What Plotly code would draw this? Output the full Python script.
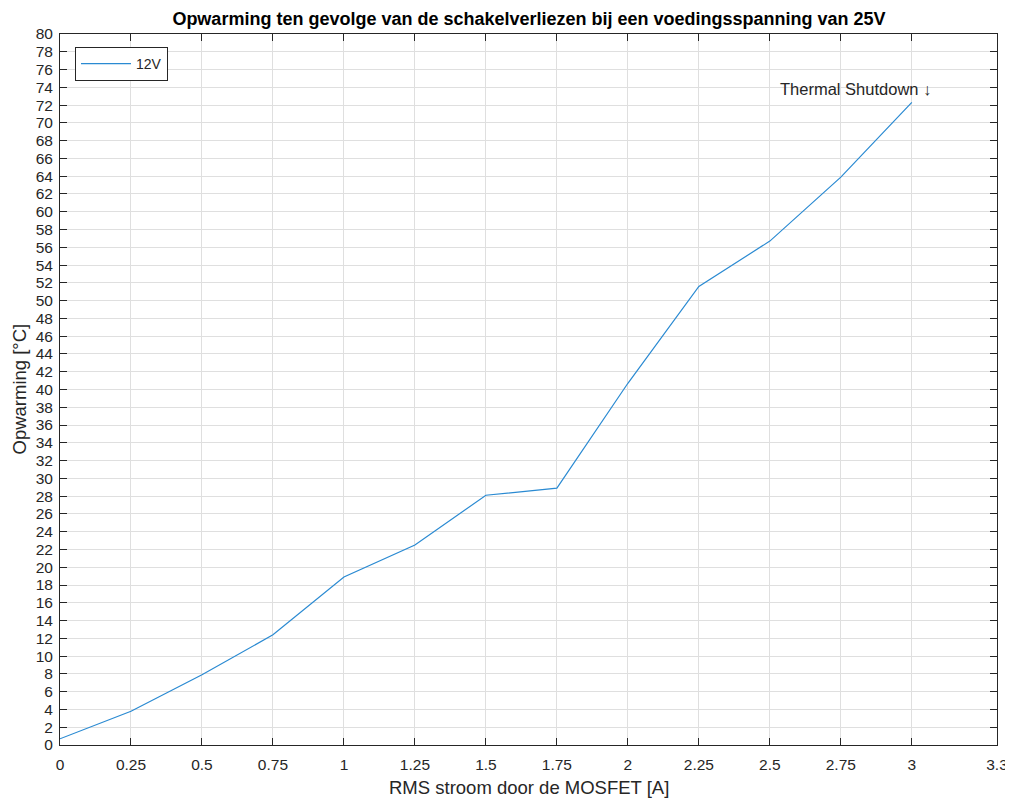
import plotly.graph_objects as go

stroom = [0, 0.25, 0.5, 0.75, 1.0, 1.25, 1.5, 1.75, 2.0, 2.25, 2.5, 2.75, 3.0]
opwarming = [0.7, 3.8, 7.9, 12.4, 18.9, 22.5, 28.1, 28.9, 40.7, 51.6, 56.7, 63.9, 72.3]
x_ticks = [0, 0.25, 0.5, 0.75, 1, 1.25, 1.5, 1.75, 2, 2.25, 2.5, 2.75, 3, 3.3]
x_ticklabels = ["0", "0.25", "0.5", "0.75", "1", "1.25", "1.5", "1.75", "2", "2.25", "2.5", "2.75", "3", "3.3"]
y_ticks = list(range(0, 81, 2))

FONT = "Liberation Sans, Arial, sans-serif"
AX = "#262626"
GRID = "#dfdfdf"
OFF = 8  # page body margin
W, H = 1013 - OFF, 798 - OFF
L, R, T, B = 60 - OFF, 16, 34 - OFF, 53
PW, PH = W - L - R, H - T - B

fig = go.Figure()
fig.add_trace(go.Scatter(x=stroom, y=opwarming, mode="lines", name="12V",
                         line=dict(color="#2a8ad2", width=1.2)))

fig.add_annotation(x=2.53, y=73.8, text="Thermal Shutdown ↓", showarrow=False,
                   xanchor="left", yanchor="middle",
                   font=dict(family=FONT, size=16.5, color=AX))

# axis titles
fig.add_annotation(xref="paper", yref="paper", x=0.5, y=-(787 - 745) / PH,
                   text="RMS stroom door de MOSFET [A]", showarrow=False,
                   xanchor="center", yanchor="middle",
                   font=dict(family=FONT, size=18.5, color=AX))
fig.add_annotation(xref="paper", yref="paper", x=-(60 - 19) / PW, y=0.5,
                   text="Opwarming [°C]", showarrow=False, textangle=-90,
                   xanchor="center", yanchor="middle",
                   font=dict(family=FONT, size=18.5, color=AX))

axis_common = dict(showline=True, linecolor=AX, linewidth=1, mirror="ticks",
                   ticks="inside", ticklen=7, tickcolor=AX, tickwidth=1,
                   showgrid=True, gridcolor=GRID, gridwidth=1, zeroline=False,
                   automargin=False,
                   tickfont=dict(family=FONT, size=15.5, color=AX))

fig.update_layout(
    width=W, height=H,
    paper_bgcolor="white", plot_bgcolor="white",
    margin=dict(l=L, r=R, t=T, b=B),
    title=dict(text="<b>Opwarming ten gevolge van de schakelverliezen bij een voedingsspanning van 25V</b>",
               x=(529 - OFF) / W, xanchor="center", y=1 - (19 - OFF) / H, yanchor="middle",
               automargin=False,
               font=dict(family=FONT, size=18, color="black")),
    xaxis=dict(range=[0, 3.3], tickvals=x_ticks, ticktext=x_ticklabels,
               ticklabelstandoff=5, **axis_common),
    yaxis=dict(range=[0, 80], tickvals=y_ticks, ticklabelstandoff=3,
               **axis_common),
    showlegend=True,
    legend=dict(x=(75 - 60) / PW, y=1 - (47 - 34) / PH, xanchor="left", yanchor="top",
                bgcolor="white", bordercolor=AX, borderwidth=1,
                font=dict(family=FONT, size=14, color=AX),
                tracegroupgap=0, itemwidth=50),
)

fig.write_html("out.html")
